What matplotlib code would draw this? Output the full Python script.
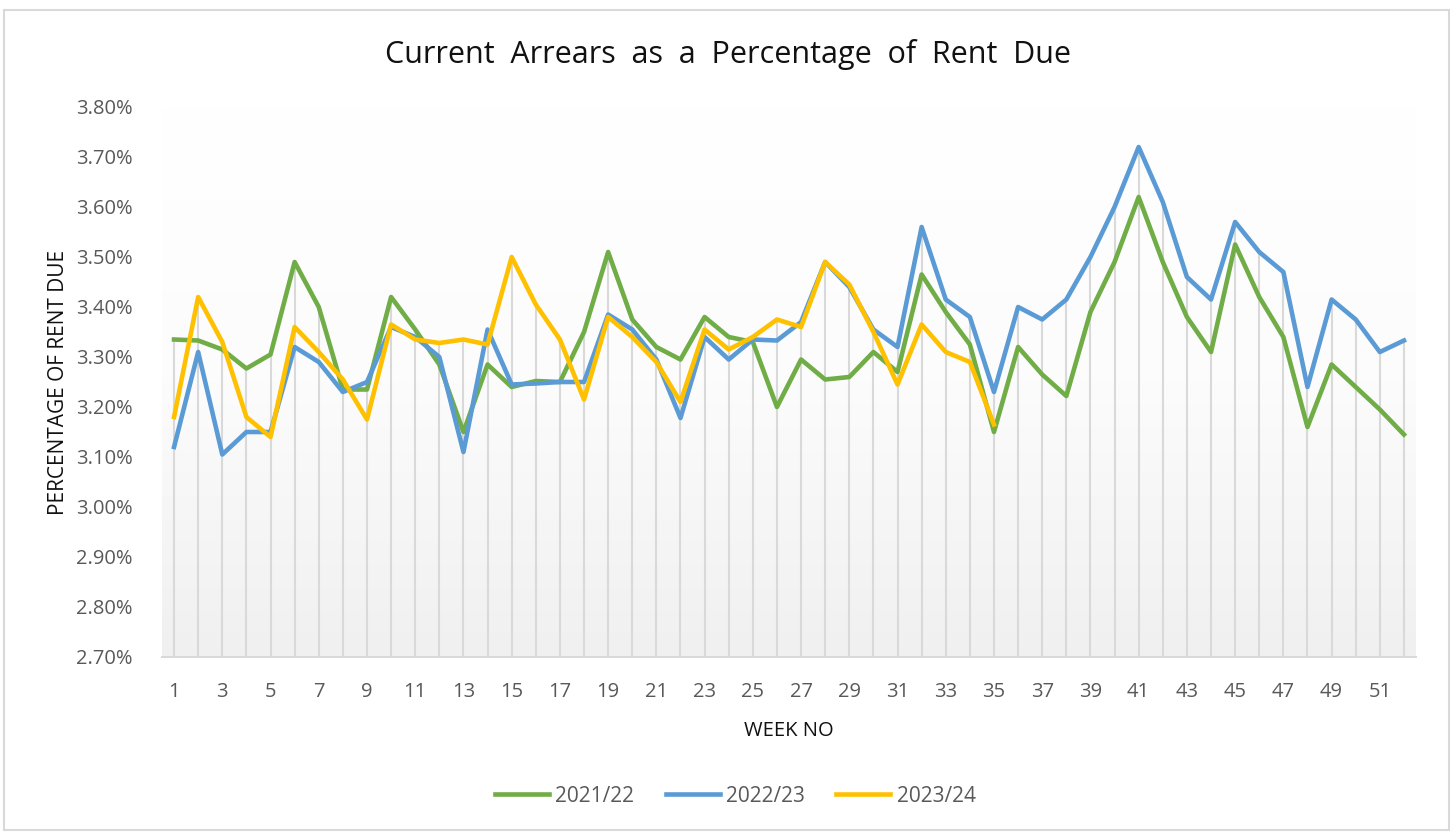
import numpy as np
import matplotlib
matplotlib.use("Agg")
import matplotlib.pyplot as plt
from matplotlib.patches import Rectangle

weeks = list(range(1, 53))

# values in %
y2122 = [3.335, 3.333, 3.315, 3.277, 3.305, 3.49, 3.40, 3.235, 3.235, 3.42,
         3.355, 3.285, 3.15, 3.285, 3.24, 3.252, 3.25, 3.35, 3.51, 3.375,
         3.32, 3.295, 3.38, 3.34, 3.33, 3.20, 3.295, 3.255, 3.26, 3.31,
         3.27, 3.465, 3.39, 3.325, 3.15, 3.32, 3.265, 3.222, 3.39, 3.49,
         3.62, 3.49, 3.38, 3.31, 3.525, 3.42, 3.34, 3.16, 3.285, 3.24,
         3.195, 3.145]
y2223 = [3.12, 3.31, 3.105, 3.15, 3.15, 3.32, 3.29, 3.23, 3.25, 3.36,
         3.34, 3.30, 3.11, 3.355, 3.245, 3.247, 3.25, 3.25, 3.385, 3.355,
         3.295, 3.178, 3.34, 3.295, 3.335, 3.333, 3.37, 3.49, 3.44, 3.355,
         3.32, 3.56, 3.415, 3.38, 3.23, 3.40, 3.375, 3.415, 3.50, 3.60,
         3.72, 3.61, 3.46, 3.415, 3.57, 3.51, 3.47, 3.24, 3.415, 3.375,
         3.31, 3.333]
y2324 = [3.18, 3.42, 3.33, 3.18, 3.14, 3.36, 3.31, 3.255, 3.175, 3.365,
         3.335, 3.328, 3.335, 3.325, 3.50, 3.405, 3.335, 3.215, 3.38, 3.34,
         3.29, 3.21, 3.355, 3.315, 3.34, 3.375, 3.36, 3.49, 3.445, 3.35,
         3.245, 3.365, 3.31, 3.29, 3.165]

series = [("2021/22", y2122, "#70ad47"),
          ("2022/23", y2223, "#5b9bd5"),
          ("2023/24", y2324, "#ffc000")]

plt.rcParams['font.family'] = ['Open Sans', 'DejaVu Sans']

fig = plt.figure(figsize=(14.53, 8.32), dpi=100)
fig.patches.append(Rectangle((0.003, 0.003), 0.994, 0.985, transform=fig.transFigure,
                             fill=False, edgecolor="#d9d9d9", lw=1.5))
ax = fig.add_axes([162/1453, 1-657/832, (1416-162)/1453, 550/832])

ymin, ymax = 2.70, 3.80
# gradient background
grad = np.linspace(0, 1, 256).reshape(-1, 1)
cmap = matplotlib.colors.LinearSegmentedColormap.from_list("g", ["#f0f0f0", "#fcfcfc", "#ffffff"])
ax.imshow(grad, extent=[0.5, 52.5, ymin, ymax], origin="lower", aspect="auto",
          cmap=cmap, zorder=0)

# drop lines
tops = []
for i, w in enumerate(weeks):
    vals = [s[1][i] for s in series if i < len(s[1])]
    tops.append(max(vals))
ax.vlines(weeks, ymin, tops, color="#d9d9d9", lw=1.5, zorder=1)

for name, vals, col in series:
    ax.plot(weeks[:len(vals)], vals, color=col, lw=3.3, label=name, zorder=3,
            solid_joinstyle="round")

ax.set_xlim(0.5, 52.5)
ax.set_ylim(ymin, ymax)
ax.set_yticks(np.round(np.arange(2.70, 3.801, 0.10), 2))
ax.set_yticklabels([f"{v:.2f}%" for v in np.arange(2.70, 3.801, 0.10)])
ax.set_xticks(weeks[::2])
ax.tick_params(axis="both", length=0, labelsize=14.5, colors="#595959")
ax.tick_params(axis="x", pad=18)
ax.tick_params(axis="y", pad=21)
for s in ["top", "right", "left"]:
    ax.spines[s].set_visible(False)
ax.spines["bottom"].set_color("#d9d9d9")
ax.spines["bottom"].set_linewidth(1.5)

ax.set_ylabel("PERCENTAGE OF RENT DUE", fontsize=15, color="#111111", labelpad=5)
ax.set_xlabel("WEEK NO", fontsize=14.5, color="#111111", labelpad=14)
fig.text(0.5007, 1-55/832, "Current  Arrears  as  a  Percentage  of  Rent  Due",
         ha="center", va="center", fontsize=22, color="#111111")

fig.legend(loc="center", bbox_to_anchor=(0.506, 1-796/832), ncol=3, frameon=False,
           fontsize=15, labelcolor="#595959", handlelength=2.6, handletextpad=0.3,
           columnspacing=1.5)

fig.savefig("out.png", dpi=100)
